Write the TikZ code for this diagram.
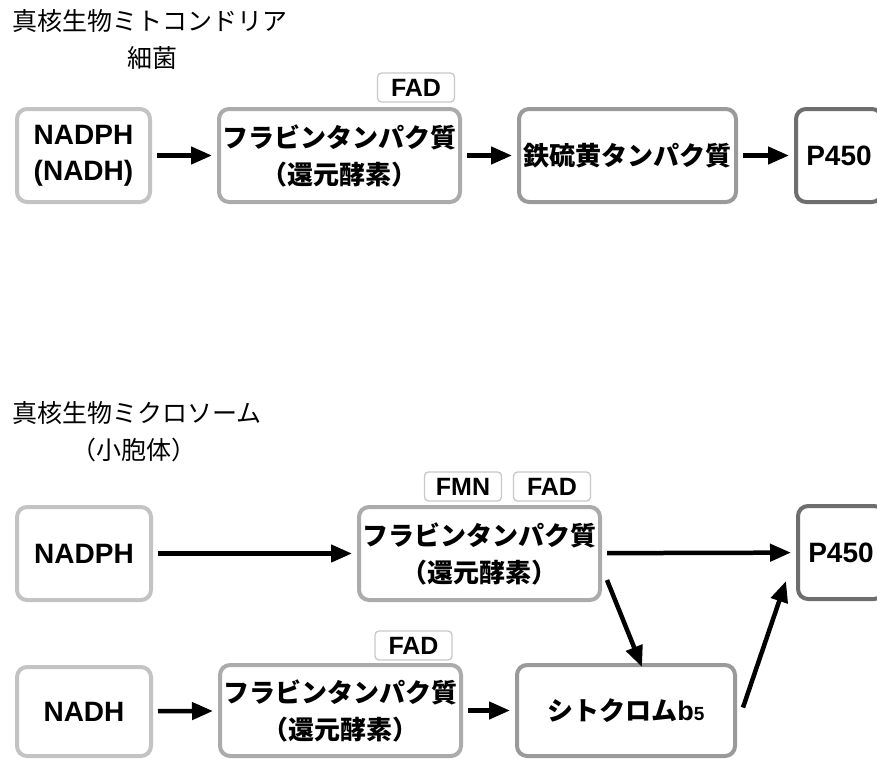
\documentclass[tikz,border=0pt]{standalone}
\usepackage{fontspec}
\setmainfont{Liberation Sans}
\newfontfamily\jp{Noto Sans CJK JP}
\usetikzlibrary{arrows.meta,calc}
\definecolor{cA}{HTML}{C3C3C3}
\definecolor{cB}{HTML}{ABABAB}
\definecolor{cC}{HTML}{9A9A9A}
\definecolor{cD}{HTML}{6E6E6E}
\definecolor{cL}{HTML}{C8C8C8}
\begin{document}
\begin{tikzpicture}[x=1pt,y=-1pt,
  box/.style={draw, line width=4pt, rounded corners=10pt, fill=white, inner sep=0pt,
    align=center, minimum height=93pt},
  latbox/.style={box, font=\bfseries\fontsize{28}{36}\selectfont},
  jpbox/.style={box, font=\bfseries\fontsize{26}{37}\selectfont\jp},
  lbl/.style={draw=cL, line width=1.3pt, rounded corners=4pt, fill=white, inner sep=0pt,
    minimum height=29pt, minimum width=77pt, font=\bfseries\fontsize{25}{25}\selectfont},
  title/.style={inner sep=0pt, font=\fontsize{25}{25}\selectfont\jp},
  arr/.style={line width=4.5pt, -{Triangle[length=21pt,width=17pt]}, shorten <=5pt, shorten >=5pt}
]
\useasboundingbox (0,0) rectangle (877,760);
\fill[white] (0,0) rectangle (877,760);

% ---------- top section ----------
\node[title, anchor=west] (t1) at (12,21) {真核生物ミトコンドリア};
\node[title] (t2) at (152,57.5) {細菌};

\node[latbox, draw=cA, minimum width=133pt] (n1) at (83.5,155.5) {NADPH\\(NADH)};
\node[jpbox, draw=cB, minimum width=241pt] (f1) at (339.5,155.5) {フラビンタンパク質\\\jp （還元酵素）};
\node[jpbox, draw=cC, minimum width=217pt] (fe) at (627.5,155.5) {鉄硫黄タンパク質};
\node[latbox, draw=cD, minimum width=86pt] (p1) at (839,155.5) {P450};
\node[lbl] (l1) at (416,87.5) {FAD};

\draw[arr] (n1) -- (f1);
\draw[arr] (f1) -- (fe);
\draw[arr] (fe) -- (p1);

% ---------- bottom section ----------
\node[title, anchor=west] (t3) at (12,413) {真核生物ミクロソーム};
\node[title] (t4) at (134,450) {（小胞体）};

\node[latbox, draw=cA, minimum width=134pt] (n2) at (84,553.5) {NADPH};
\node[jpbox, draw=cB, minimum width=241pt] (f2) at (479.5,553.5) {フラビンタンパク質\\\jp （還元酵素）};
\node[latbox, draw=cD, minimum width=86pt] (p2) at (841,552.5) {P450};
\node[lbl] (l2) at (463,486.5) {FMN};
\node[lbl] (l3) at (552,486.5) {FAD};

\node[latbox, draw=cA, minimum width=134pt, minimum height=89pt] (n3) at (84,711.5) {NADH};
\node[jpbox, draw=cB, minimum width=241pt, minimum height=91pt] (f3) at (340.5,710.5) {フラビンタンパク質\\\jp （還元酵素）};
\node[lbl] (l4) at (413.5,645.5) {FAD};
\node[box, draw=cC, minimum width=218pt, minimum height=91pt] (cy) at (626,710.5)
  {{\bfseries\fontsize{26}{26}\selectfont\jp シトクロム}{\bfseries\fontsize{27}{27}\selectfont b}{\bfseries\fontsize{19}{19}\selectfont 5}};

\draw[arr] (n2) -- (f2);
\draw[arr] (f2) -- (p2);
\draw[arr] (n3) -- (f3);
\draw[arr] (f3) -- (cy);
\draw[arr, shorten <=0pt, shorten >=0pt] ($(f2.south east)+(5,-22)$) -- ($(cy.north)+(16,4)$);
\draw[arr, shorten <=0pt, shorten >=0pt] ($(cy.east)+(6,-3)$) -- ($(p2.south west)+(-10,-20)$);
\end{tikzpicture}
\end{document}
